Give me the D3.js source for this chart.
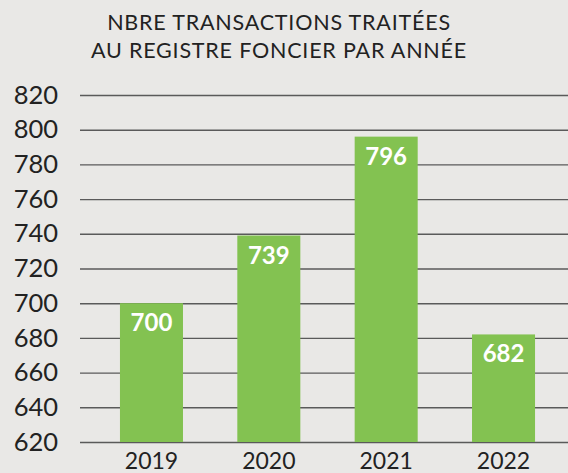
<!DOCTYPE html>
<html>
<head>
<meta charset="utf-8">
<script src="https://cdn.jsdelivr.net/npm/d3@7"></script>
<style>
  html, body { margin: 0; padding: 0; background: #e9e8e6; }
  svg { display: block; }
</style>
</head>
<body>
<div id="chart"></div>
<script>
// data
const years = ['2019', '2020', '2021', '2022']
const transactions = [700, 739, 796, 682]
const yTicks = [620, 640, 660, 680, 700, 720, 740, 760, 780, 800, 820]
const titleLines = ['NBRE TRANSACTIONS TRAITÉES', 'AU REGISTRE FONCIER PAR ANNÉE']

const width = 568, height = 473
const font = 'Lato, "Open Sans", sans-serif'

let svg = d3.select('#chart').append('svg')
    .attr('width', width)
    .attr('height', height)

svg.append('rect')
    .attr('width', width)
    .attr('height', height)
    .attr('fill', '#e9e8e6')

let y = d3.scaleLinear().domain([620, 820]).range([442, 95])
let x = d3.scaleBand().domain(years).range([92.8, 562.2])
    .paddingInner(0.463).paddingOuter(0.2315)

// title
svg.append('g').selectAll('text')
    .data(titleLines)
    .join('text')
        .attr('x', 279)
        .attr('y', (d, i) => 30 + i * 28)
        .attr('text-anchor', 'middle')
        .attr('fill', '#222')
        .attr('font-family', font)
        .attr('font-size', '21.5px')
        .attr('letter-spacing', '0.8px')
        .text(d => d)

// y axis + gridlines
let yAxis = svg.append('g')
    .attr('transform', 'translate(80,0)')
    .call(d3.axisLeft(y).tickValues(yTicks).tickSize(-(width - 80)).tickPadding(22))
yAxis.select('.domain').remove()
yAxis.selectAll('.tick line')
    .attr('stroke', '#5a5a5a')
    .attr('stroke-width', 1.4)
yAxis.selectAll('.tick text')
    .attr('fill', '#222')
    .attr('font-family', font)
    .attr('font-size', '25.5px')
    .attr('dy', '0.32em')

// bars
let bars = svg.append('g')
bars.selectAll('rect')
    .data(transactions)
    .join('rect')
        .attr('x', (d, i) => x(years[i]))
        .attr('y', d => y(d))
        .attr('width', x.bandwidth())
        .attr('height', d => y(620) - y(d))
        .attr('fill', '#83c251')

bars.selectAll('text')
    .data(transactions)
    .join('text')
        .attr('x', (d, i) => x(years[i]) + x.bandwidth() / 2)
        .attr('y', d => y(d) + 28)
        .attr('text-anchor', 'middle')
        .attr('fill', '#fff')
        .attr('font-family', font)
        .attr('font-weight', 'bold')
        .attr('font-size', '24px')
        .text(d => d)

// x axis
let xAxis = svg.append('g')
    .attr('transform', 'translate(0,' + y(620) + ')')
    .call(d3.axisBottom(x).tickSize(0))
xAxis.select('.domain').remove()
xAxis.selectAll('.tick text')
    .attr('y', 27)
    .attr('dy', 0)
    .attr('fill', '#222')
    .attr('font-family', font)
    .attr('font-size', '23px')
</script>
</body>
</html>
